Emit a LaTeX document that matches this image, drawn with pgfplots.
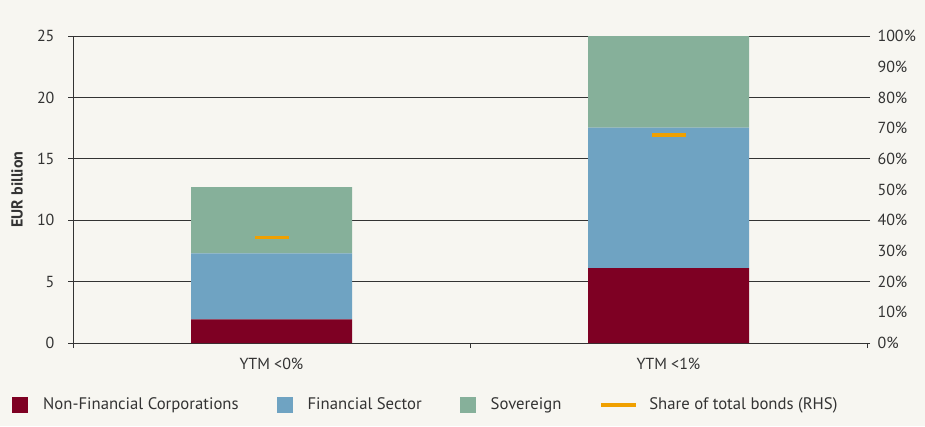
\documentclass[border=0pt]{standalone}
\usepackage{fontspec}
\setmainfont{PT Sans}
\usepackage{pgfplots}
\pgfplotsset{compat=1.18}
\definecolor{bg}{HTML}{F7F6F1}
\definecolor{nfc}{HTML}{7E0023}
\definecolor{fs}{HTML}{6FA3C2}
\definecolor{sov}{HTML}{86B09A}
\definecolor{shr}{HTML}{F0A000}
\definecolor{txt}{HTML}{333333}
\definecolor{ax}{HTML}{333333}
\newcommand{\fnt}{\fontsize{16}{18}\selectfont}
\newcommand{\lfnt}{\fontsize{16.7}{18}\selectfont}
\begin{document}
\fnt
\begin{tikzpicture}[x=1pt,y=1pt]
\fill[bg] (-73,-83) rectangle (852,343);
\useasboundingbox (-73,-83) rectangle (852,343);
\begin{axis}[
  at={(0,0)}, anchor=south west, scale only axis,
  width=794pt, height=307pt,
  xmin=-0.5, xmax=1.5, ymin=0, ymax=25,
  ybar stacked, bar width=161pt,
  axis x line*=bottom, axis y line*=left,
  axis line style={ax, line width=0.8pt},
  /pgf/number format/assume math mode=true,
  tick label style={font=\fnt, text=txt},
  xtick={0,1}, xticklabels={YTM <0\%, YTM <1\%},
  xticklabel style={yshift=-5pt},
  x tick style={draw=none},
  extra x ticks={-0.5,0.5,1.5}, extra x tick labels={},
  extra x tick style={x tick style={draw=ax, line width=0.8pt}},
  tick align=outside, major tick length=5pt,
  ytick={0,5,...,25},
  yticklabel style={xshift=-8pt},
  y tick style={draw=ax, line width=0.8pt},
  ymajorgrids, grid style={ax, line width=0.8pt},
  ylabel={EUR billion},
  ylabel style={font=\fnt\bfseries, text=txt, at={(axis description cs:-0.0705,0.5)}, anchor=center},
  legend columns=4,
  legend style={at={(axis description cs:0,0)}, anchor=west, xshift=-61pt, yshift=-62pt,
    draw=none, fill=none, inner sep=0pt, font=\lfnt, text=txt,
    /tikz/every even column/.append style={column sep=36pt}},
]
\addplot[fill=nfc, draw=none, legend image code/.code={\fill[nfc] (0pt,-8pt) rectangle (16pt,8pt); \path (29pt,0pt);}] coordinates {(0,1.93) (1,6.10)};
\addlegendentry{Non-Financial Corporations}
\addplot[fill=fs, draw=none, legend image code/.code={\fill[fs] (0pt,-8pt) rectangle (16pt,8pt); \path (29pt,0pt);}] coordinates {(0,5.37) (1,11.43)};
\addlegendentry{Financial Sector}
\addplot[fill=sov, draw=none, legend image code/.code={\fill[sov] (0pt,-8pt) rectangle (16pt,8pt); \path (29pt,0pt);}] coordinates {(0,5.40) (1,7.45)};
\addlegendentry{Sovereign}
\addlegendimage{legend image code/.code={\draw[shr, line width=3.5pt] (0pt,0pt) -- (35pt,0pt); \path (46pt,0pt);}}
\addlegendentry{Share of total bonds (RHS)}
\end{axis}
\begin{axis}[
  at={(0,0)}, anchor=south west, scale only axis,
  width=794pt, height=307pt,
  xmin=-0.5, xmax=1.5, ymin=0, ymax=100,
  axis x line=none, axis y line*=right,
  y axis line style={draw=none},
  /pgf/number format/assume math mode=true,
  tick label style={font=\fnt, text=txt},
  ytick={0,10,...,100}, yticklabel={\pgfmathprintnumber{\tick}\%},
  yticklabel style={xshift=5pt},
  tick align=outside, major tick length=0pt,
  extra y ticks={0,20,...,100}, extra y tick labels={},
  extra y tick style={major tick length=3pt, y tick style={draw=ax, line width=0.8pt}},
]
\addplot[only marks, mark=-, mark size=17pt, mark options={draw=shr, line width=3.5pt}] coordinates {(0,34.4) (1,67.7)};
\end{axis}
\end{tikzpicture}
\end{document}
